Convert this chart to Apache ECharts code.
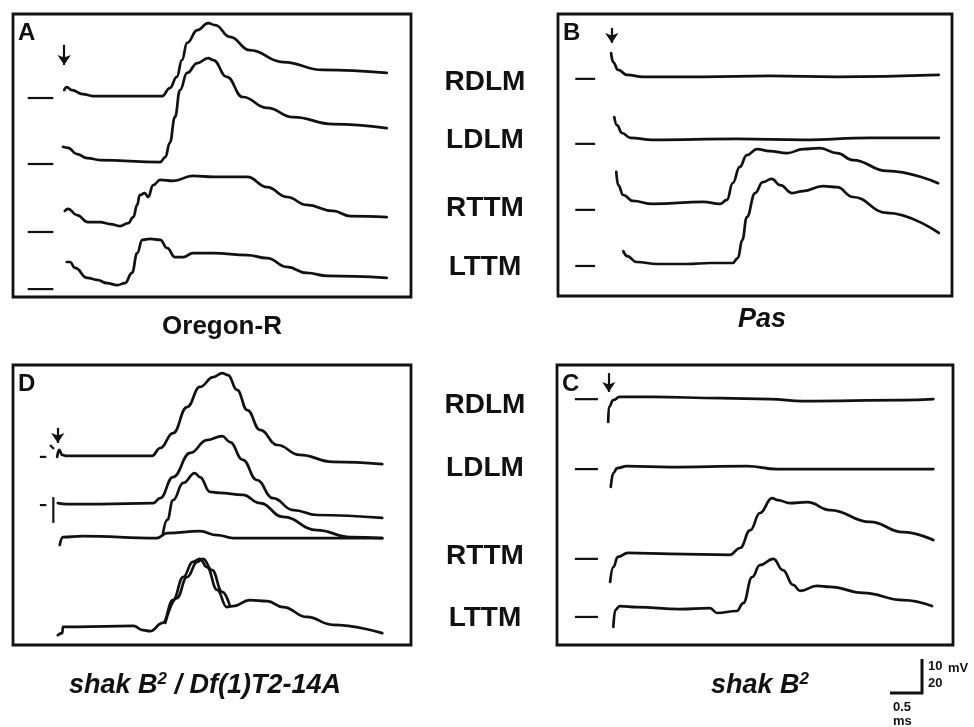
<!DOCTYPE html>
<html>
<head>
<meta charset="utf-8">
<script src="https://cdn.jsdelivr.net/npm/echarts@6/dist/echarts.min.js"></script>
<style>
  html, body { margin: 0; padding: 0; background: #fff; }
  #chart { width: 974px; height: 727px; }
</style>
</head>
<body>
<div id="chart"></div>
<script>
// time in ms from the left edge of each panel, potential in mV from its bottom edge
var muscles = ['RDLM', 'LDLM', 'RTTM', 'LTTM'];

// A: Oregon-R
var A_RDLM = [[0.80,62.7],[0.84,63.6],[0.92,62.7],[1.09,61.5],[1.25,60.9],[2.09,60.9],[2.33,60.9],[2.45,63.3],[2.56,66.7],[2.64,71.8],[2.72,77.0],[2.88,80.9],[3.05,83.0],[3.16,82.4],[3.39,78.8],[3.70,74.8],[4.22,71.2],[4.84,68.8],[5.84,67.9]];
var A_LDLM = [[0.78,45.5],[0.86,45.2],[1.00,43.3],[1.16,42.1],[1.36,41.5],[2.30,40.9],[2.38,42.4],[2.45,46.7],[2.53,54.5],[2.61,62.7],[2.72,67.9],[2.88,70.9],[3.05,72.4],[3.13,71.8],[3.34,66.7],[3.59,60.6],[3.97,57.3],[4.38,54.5],[5.00,52.4],[5.84,51.2]];
var A_RTTM = [[0.81,26.1],[0.86,26.7],[1.00,24.8],[1.17,22.7],[1.36,22.7],[1.52,22.1],[1.67,21.5],[1.80,22.4],[1.88,24.2],[1.94,27.9],[1.98,30.9],[2.06,31.5],[2.11,30.3],[2.19,33.9],[2.30,35.5],[2.50,35.2],[2.81,36.7],[3.13,36.4],[3.66,36.4],[3.97,33.3],[4.28,30.3],[4.59,27.9],[5.00,26.1],[5.27,24.5],[5.84,24.2]];
var A_LTTM = [[0.84,10.6],[0.89,10.6],[0.97,8.8],[1.16,5.8],[1.31,5.2],[1.47,4.2],[1.63,3.6],[1.75,4.2],[1.86,7.3],[1.94,13.3],[2.02,17.3],[2.14,17.6],[2.30,17.3],[2.41,14.8],[2.53,12.1],[2.66,12.1],[2.81,13.3],[3.13,13.3],[3.66,12.7],[3.97,11.8],[4.28,9.1],[4.59,7.3],[4.91,6.4],[5.84,5.8]];
var A_rest = [60.3, 40.3, 19.7, 2.4];

// B: Pas
var B_RDLM = [[0.83,73.6],[0.86,70.9],[0.94,68.5],[1.08,67.0],[1.33,66.4],[2.27,66.4],[3.31,66.7],[4.36,66.4],[5.95,67.0]];
var B_LDLM = [[0.88,54.2],[0.92,51.8],[1.00,49.4],[1.13,47.9],[1.48,47.3],[2.80,47.6],[3.83,47.3],[4.88,47.9],[5.95,47.9]];
var B_RTTM = [[0.91,37.6],[0.94,33.6],[1.02,30.6],[1.17,28.8],[1.48,27.9],[2.27,28.5],[2.53,27.9],[2.64,29.1],[2.73,34.2],[2.84,39.1],[2.95,42.7],[3.11,44.5],[3.31,43.9],[3.58,43.3],[3.83,44.5],[4.09,44.8],[4.36,43.3],[4.61,41.2],[5.14,37.9],[5.94,34.2]];
var B_LTTM = [[1.02,13.6],[1.08,12.1],[1.23,10.3],[1.55,9.7],[2.02,9.7],[2.38,10.0],[2.73,10.0],[2.81,11.5],[2.88,17.0],[2.95,23.9],[3.08,31.2],[3.20,34.5],[3.34,35.5],[3.47,33.6],[3.66,31.2],[3.83,31.8],[4.14,33.3],[4.36,33.0],[4.61,30.0],[5.14,25.2],[5.95,19.1]];
var B_rest = [65.8, 46.1, 26.1, 9.1];

// D: shak B2 / Df(1)T2-14A
var D_RDLM = [[0.69,57.0],[0.72,59.1],[0.77,57.6],[0.84,57.3],[1.36,57.3],[2.17,57.3],[2.30,59.7],[2.50,64.2],[2.72,72.1],[2.92,78.2],[3.13,81.2],[3.27,82.4],[3.36,81.8],[3.50,77.3],[3.66,71.2],[3.86,65.2],[4.13,60.6],[4.48,57.6],[5.00,55.5],[5.77,54.8]];
var D_LDLM = [[0.70,43.0],[0.84,42.7],[1.36,42.7],[2.19,43.0],[2.30,44.5],[2.50,50.9],[2.77,58.2],[3.03,62.1],[3.27,63.3],[3.39,61.5],[3.59,56.1],[3.81,50.0],[4.06,44.5],[4.38,40.9],[4.75,39.4],[5.77,38.5]];
var D_RTTM = [[0.73,30.3],[0.78,32.7],[1.09,33.0],[2.25,32.4],[2.41,33.9],[2.92,34.5],[3.19,33.3],[3.44,32.4],[3.97,32.4],[5.77,32.4]];
var D_RTTM_2 = [[2.34,33.3],[2.41,37.9],[2.50,43.9],[2.66,49.1],[2.84,52.1],[2.92,50.9],[3.08,46.4],[3.23,46.1],[3.59,45.5],[3.86,43.0],[4.22,38.8],[4.75,34.8],[5.27,32.7],[5.77,32.4]];
var D_LTTM = [[0.70,3.0],[0.77,3.6],[0.78,5.5],[1.00,5.5],[1.88,5.8],[2.03,4.5],[2.14,4.2],[2.34,6.7],[2.50,13.6],[2.66,20.6],[2.81,25.2],[2.92,26.1],[3.03,23.6],[3.19,16.7],[3.34,11.5],[3.44,11.8],[3.70,13.6],[3.97,13.3],[4.22,11.5],[4.59,8.5],[5.00,6.1],[5.77,3.6]];
var D_LTTM_2 = [[2.38,6.7],[2.56,14.2],[2.72,20.6],[2.88,25.2],[2.97,26.1],[3.11,22.7],[3.27,16.1],[3.39,11.8]];
var D_artifacts = [
  [[0.42,57.0],[0.52,57.0]],
  [[0.58,60.6],[0.64,59.4]],
  [[0.42,42.4],[0.52,42.4]],
  [[0.63,44.8],[0.63,37.0]]
];

// C: shak B2
var C_RDLM = [[0.80,67.6],[0.81,72.1],[0.88,74.2],[0.98,75.2],[1.50,75.2],[2.55,74.8],[3.33,74.5],[3.84,73.9],[5.41,74.2],[5.88,74.5]];
var C_LDLM = [[0.84,47.9],[0.88,52.1],[0.94,53.6],[1.09,54.2],[1.77,53.9],[2.97,54.2],[3.44,53.3],[4.38,53.3],[5.88,53.3]];
var C_RTTM = [[0.83,19.1],[0.88,23.6],[0.95,26.7],[1.11,27.9],[1.77,27.6],[2.70,27.3],[2.86,29.4],[3.02,34.8],[3.17,40.0],[3.36,44.5],[3.45,43.9],[3.64,43.0],[3.91,43.3],[4.27,40.9],[4.89,37.3],[5.41,34.2],[5.88,31.8]];
var C_LTTM = [[0.88,5.5],[0.91,10.6],[0.98,11.8],[1.25,11.5],[1.92,10.9],[2.39,11.2],[2.50,9.7],[2.81,10.3],[2.91,12.7],[3.05,20.6],[3.17,24.2],[3.38,26.1],[3.53,22.7],[3.69,18.2],[3.80,16.4],[4.06,17.9],[4.27,17.6],[4.78,15.8],[5.41,13.6],[5.86,11.8]];
var C_rest = [74.5, 53.3, 26.1, 8.5];

// stimulus arrows: [ms, tail mV, tip mV]
var arrows = { A: [0.80, 76.4, 70.3], B: [0.84, 81.2, 76.7], D: [0.70, 65.8, 61.2], C: [0.81, 82.4, 76.7] };
var restSpan = { A: [0.23, 0.63], B: [0.27, 0.58], C: [0.28, 0.64] };

var PX_PER_MS = 64, PX_PER_MV = 3.3;
var INK = '#111';
var FONT = '"Liberation Sans", Arial, sans-serif';

var panels = [
  { key: 'A', left: 13, top: 14, width: 398, height: 283, traces: [A_RDLM, A_LDLM, A_RTTM, A_LTTM], rest: A_rest },
  { key: 'B', left: 558, top: 14, width: 394, height: 282, traces: [B_RDLM, B_LDLM, B_RTTM, B_LTTM], rest: B_rest },
  { key: 'D', left: 13, top: 365, width: 398, height: 280, traces: [D_RDLM, D_LDLM, D_RTTM, D_RTTM_2, D_LTTM, D_LTTM_2], extra: D_artifacts },
  { key: 'C', left: 557, top: 365, width: 396, height: 280, traces: [C_RDLM, C_LDLM, C_RTTM, C_LTTM], rest: C_rest }
];

var chart = echarts.init(document.getElementById('chart'));
var grids = [], xAxes = [], yAxes = [], series = [], graphics = [];

panels.forEach(function(p, i) {
  grids.push({ left: p.left, top: p.top, width: p.width, height: p.height, show: true,
    borderColor: INK, borderWidth: 2.8, backgroundColor: 'transparent' });
  xAxes.push({ gridIndex: i, type: 'value', min: 0, max: p.width / PX_PER_MS, show: false });
  yAxes.push({ gridIndex: i, type: 'value', min: 0, max: p.height / PX_PER_MV, show: false });

  p.traces.forEach(function(tr) {
    series.push({ type: 'line', xAxisIndex: i, yAxisIndex: i, data: tr, showSymbol: false,
      smooth: 0.45, smoothMonotone: 'x', silent: true,
      lineStyle: { color: INK, width: 2.7, cap: 'round', join: 'round' } });
  });
  if (p.rest) {
    p.rest.forEach(function(v) {
      series.push({ type: 'line', xAxisIndex: i, yAxisIndex: i, showSymbol: false, silent: true,
        data: [[restSpan[p.key][0], v], [restSpan[p.key][1], v]],
        lineStyle: { color: INK, width: 2.2 } });
    });
  }
  if (p.extra) {
    p.extra.forEach(function(seg) {
      series.push({ type: 'line', xAxisIndex: i, yAxisIndex: i, showSymbol: false, silent: true,
        data: seg, lineStyle: { color: INK, width: 2.2 } });
    });
  }
  var a = arrows[p.key];
  series.push({ type: 'lines', coordinateSystem: 'cartesian2d', xAxisIndex: i, yAxisIndex: i,
    symbol: ['none', 'arrow'], symbolSize: 10, silent: true,
    lineStyle: { color: INK, width: 2.2, opacity: 1 },
    data: [{ coords: [[a[0], a[1]], [a[0], a[2]]] }] });

  graphics.push({ type: 'text', left: p.left + 5, top: p.top + 7,
    style: { text: p.key, font: 'bold 24px ' + FONT, fill: INK } });
});

// muscle names between the panels
var labelRowsTop = [82, 140, 208, 267];
var labelRowsBottom = [405, 468, 556, 618];
[labelRowsTop, labelRowsBottom].forEach(function(rows) {
  rows.forEach(function(y, k) {
    graphics.push({ type: 'text', x: 485, y: y,
      style: { text: muscles[k], font: 'bold 28px ' + FONT, fill: INK,
        textAlign: 'center', textVerticalAlign: 'middle' } });
  });
});

function title(x, y, rich, text) {
  graphics.push({ type: 'text', x: x, y: y,
    style: { text: text, textAlign: 'center', textVerticalAlign: 'middle', fill: INK, rich: rich } });
}
var richTitle = {
  n: { font: 'bold 26px ' + FONT, fill: INK },
  i: { font: 'italic bold 27px ' + FONT, fill: INK },
  s: { font: 'italic bold 17px ' + FONT, fill: INK, verticalAlign: 'top', padding: [0, 0, 14, 0] }
};
title(222, 327, richTitle, '{n|Oregon-R}');
title(762, 320, richTitle, '{i|Pas}');
title(205, 686, richTitle, '{i|shak B}{s|2}{i| / Df(1)T2-14A}');
title(760, 686, richTitle, '{i|shak B}{s|2}');

// calibration bar
graphics.push({ type: 'polyline', shape: { points: [[890, 693], [922, 693], [922, 659]] },
  style: { stroke: INK, lineWidth: 3, fill: null } });
var calFont = 'bold 13px ' + FONT;
graphics.push({ type: 'text', x: 928, y: 660, style: { text: '10', font: calFont, fill: INK } });
graphics.push({ type: 'text', x: 928, y: 677, style: { text: '20', font: calFont, fill: INK } });
graphics.push({ type: 'text', x: 948, y: 662, style: { text: 'mV', font: calFont, fill: INK } });
graphics.push({ type: 'text', x: 893, y: 701, style: { text: '0.5', font: calFont, fill: INK } });
graphics.push({ type: 'text', x: 893, y: 715, style: { text: 'ms', font: calFont, fill: INK } });

chart.setOption({
  backgroundColor: '#fff',
  animation: false,
  grid: grids,
  xAxis: xAxes,
  yAxis: yAxes,
  series: series,
  graphic: graphics
});
</script>
</body>
</html>
